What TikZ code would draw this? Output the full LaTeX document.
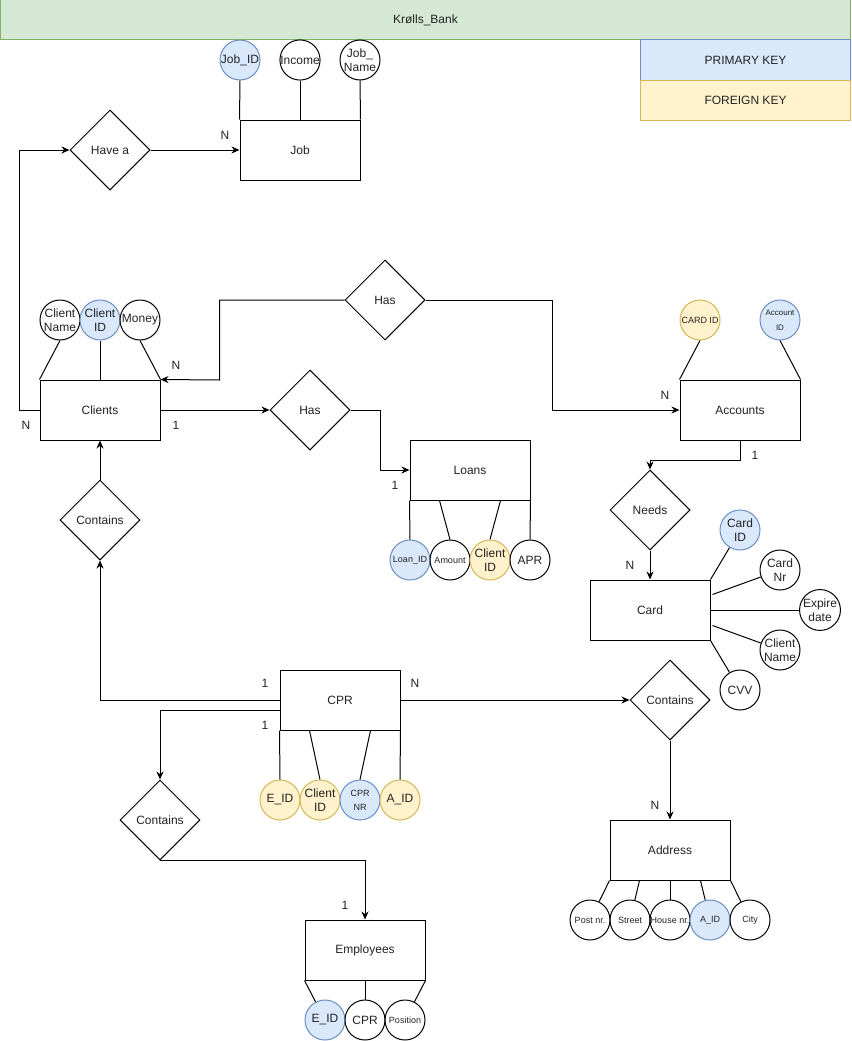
\documentclass[tikz,border=0pt]{standalone}
\usepackage{fontspec}
\setmainfont{Liberation Sans}
\usetikzlibrary{shapes.geometric,arrows.meta,calc}
\definecolor{txt}{HTML}{222222}
\definecolor{gfill}{HTML}{D5E8D4}
\definecolor{gline}{HTML}{82B366}
\definecolor{bfill}{HTML}{DAE8FC}
\definecolor{bline}{HTML}{6C8EBF}
\definecolor{yfill}{HTML}{FFF2CC}
\definecolor{yline}{HTML}{D6B656}
\tikzset{
  every node/.style={text=txt,font=\fontsize{12}{14}\selectfont},
  ent/.style={rectangle,draw,line width=1pt,minimum width=120pt,minimum height=60pt,inner sep=0pt},
  rel/.style={diamond,draw,line width=1pt,minimum width=80pt,minimum height=80pt,inner sep=0pt},
  attr/.style={circle,draw,line width=1pt,minimum size=40pt,inner sep=0pt,align=center},
  pk/.style={attr,fill=bfill,draw=bline},
  fk/.style={attr,fill=yfill,draw=yline},
  small/.style={font=\fontsize{9}{14}\selectfont},
  tiny/.style={font=\fontsize{8}{15}\selectfont},
  arr/.style={-{Stealth[length=8pt,width=7pt]},line width=1pt},
  ln/.style={line width=1pt},
  card/.style={inner sep=0pt},
}
\begin{document}
\begin{tikzpicture}[x=1pt,y=-1pt]
\useasboundingbox (0,0) rectangle (851,1041);
% title and legend
\node[rectangle,draw=gline,fill=gline!0,fill=gfill,line width=1pt,minimum width=850pt,minimum height=40pt] (title) at (425.5,20) {Krølls\_Bank};
\node[rectangle,draw=bline,fill=bfill,line width=1pt,minimum width=210pt,minimum height=40pt] (pkleg) at (745.5,60) {PRIMARY KEY};
\node[rectangle,draw=yline,fill=yfill,line width=1pt,minimum width=210pt,minimum height=40pt] (fkleg) at (745.5,100) {FOREIGN KEY};

% Job
\node[ent] (job) at (300,150) {Job};
\node[pk] (jobid) at (240,60) {Job\_ID};
\node[attr] (income) at (300,60) {Income};
\node[attr] (jobname) at (360,60) {Job\_\\Name};
\draw[ln] (jobid.south) -- (job.north west);
\draw[ln] (income.south) -- (job.north);
\draw[ln] (jobname.south) -- (job.north east);
\node[rel] (havea) at (110,150) {Have a};

% Clients
\node[ent] (clients) at (100,410) {Clients};
\node[attr] (cname) at (60,320) {Client\\Name};
\node[pk] (cid) at (100,320) {Client\\ID};
\node[attr] (money) at (140,320) {Money};
\draw[ln] (cname.south) -- (clients.north west);
\draw[ln] (cid.south) -- (clients.north);
\draw[ln] (money.south) -- (clients.north east);

% Has relations
\node[rel] (hasacc) at (385,300) {Has};
\node[rel] (hasloan) at (310,410) {Has};

% Accounts
\node[ent] (accounts) at (740,410) {Accounts};
\node[fk,small] (accard) at (700,320) {CARD ID};
\node[pk,tiny] (accid) at (780,320) {Account\\ID};
\draw[ln] (accard.south) -- (accounts.north west);
\draw[ln] (accid.south) -- (accounts.north east);

% Loans
\node[ent] (loans) at (470,470) {Loans};
\node[pk,small] (loanid) at (410,560) {Loan\_ID};
\node[attr,small] (amount) at (450,560) {Amount};
\node[fk] (lcid) at (490,560) {Client\\ID};
\node[attr] (apr) at (530,560) {APR};
\draw[ln] (loans.south west) -- (loanid.north);
\draw[ln] ($(loans.south west)+(30,0)$) -- (amount.north);
\draw[ln] ($(loans.south east)+(-30,0)$) -- (lcid.north);
\draw[ln] (loans.south east) -- (apr.north);

% Needs / Card
\node[rel] (needs) at (650,510) {Needs};
\node[ent] (card) at (650,610) {Card};
\node[pk] (cardid) at (740,530) {Card\\ID};
\node[attr] (cardnr) at (780,570) {Card\\Nr};
\node[attr] (expire) at (820,610) {Expire\\date};
\node[attr] (ccname) at (780,650) {Client\\Name};
\node[attr] (cvv) at (740,690) {CVV};
\draw[ln] (card.north east) -- (cardid);
\draw[ln] ($(card.north east)+(2,15)$) -- (cardnr);
\draw[ln] (card.east) -- (expire);
\draw[ln] ($(card.south east)+(2,-15)$) -- (ccname);
\draw[ln] (card.south east) -- (cvv);

% CPR
\node[ent] (cpr) at (340,700) {CPR};
\node[fk] (ceid) at (280,800) {E\_ID};
\node[fk] (ccid) at (320,800) {Client\\ID};
\node[pk,small] (cprnr) at (360,800) {CPR\\NR};
\node[fk] (caid) at (400,800) {A\_ID};
\draw[ln] (cpr.south west) -- (ceid.north);
\draw[ln] ($(cpr.south west)+(30,0)$) -- (ccid.north);
\draw[ln] ($(cpr.south east)+(-30,0)$) -- (cprnr.north);
\draw[ln] (cpr.south east) -- (caid.north);

\node[rel] (contcl) at (100,520) {Contains};
\node[rel] (contem) at (160,820) {Contains};
\node[rel] (contad) at (670,700) {Contains};

% Employees
\node[ent] (emp) at (365,950) {Employees};
\node[pk] (eeid) at (325,1020) {E\_ID};
\node[attr] (ecpr) at (365,1020) {CPR};
\node[attr,small] (epos) at (405,1020) {Position};
\draw[ln] (emp.south west) -- (eeid);
\draw[ln] (emp.south) -- (ecpr.north);
\draw[ln] (emp.south east) -- (epos);

% Address
\node[ent] (address) at (670,850) {Address};
\node[attr,small] (post) at (590,920) {Post nr.};
\node[attr,small] (street) at (630,920) {Street};
\node[attr,small] (house) at (670,920) {House nr.};
\node[pk,small] (aaid) at (710,920) {A\_ID};
\node[attr,small] (city) at (750,920) {City};
\draw[ln] (address.south west) -- (post);
\draw[ln] ($(address.south west)+(30,0)$) -- (street);
\draw[ln] (address.south) -- (house.north);
\draw[ln] ($(address.south east)+(-30,0)$) -- (aaid);
\draw[ln] (address.south east) -- (city);

% connectors
\draw[arr] (clients.west) -- ++(-20,0) |- (havea.west);
\draw[arr] (havea.east) -- (job.west);
\draw[arr] (hasacc.west) -| ++(-125,80) -- (clients.north east);
\draw[arr] (hasacc.east) -| ++(127,110) -- (accounts.west);
\draw[arr] (clients.east) -- (hasloan.west);
\draw[arr] (hasloan.east) -- ++(30,0) |- (loans.west);
\draw[arr] (accounts.south) -- ++(0,20) -| (needs.north);
\draw[arr] (needs.south) -- (card.north);
\draw[arr] (cpr.west) -| (contcl.south);
\draw[arr] (contcl.north) -- (clients.south);
\draw[arr] ($(cpr.west)+(0,10)$) -| (contem.north);
\draw[arr] (contem.south) -| (emp.north);
\draw[arr] (cpr.east) -- (contad.west);
\draw[arr] (contad.south) -- (address.north);

% cardinalities
\node (l1) at (225,135) {N};
\node (l2) at (26,425) {N};
\node (l3) at (176,365) {N};
\node (l4) at (176,425) {1};
\node (l5) at (395,485) {1};
\node (l6) at (665,395) {N};
\node (l7) at (755,455) {1};
\node (l8) at (630,565) {N};
\node (l9) at (265,683) {1};
\node (l10) at (265,725) {1};
\node (l11) at (415,683) {N};
\node (l12) at (345,905) {1};
\node (l13) at (655,805) {N};
\end{tikzpicture}
\end{document}
